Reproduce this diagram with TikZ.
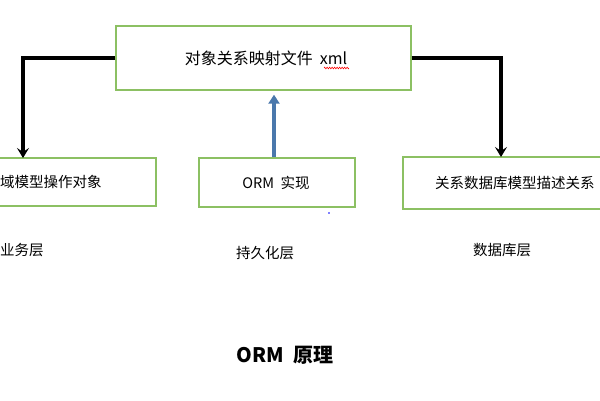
\documentclass[tikz,border=0pt]{standalone}
\usepackage{fontspec}
\setmainfont{Noto Sans CJK SC}
\usetikzlibrary{arrows.meta,decorations.pathmorphing}
\definecolor{boxgreen}{HTML}{8CC063}
\definecolor{arrowblue}{HTML}{4A78AC}
\tikzset{
  box/.style={draw=boxgreen, line width=1.4pt, fill=white, inner sep=0pt},
  txt/.style={inner sep=0pt, font=\fontsize{14.5}{17}\selectfont},
  blk/.style={line width=3.2pt, black, -{Stealth[length=10pt,width=12pt,inset=4pt]}},
  blu/.style={line width=3.6pt, arrowblue, shorten >=4pt, -{Triangle[length=9pt,width=11pt]}},
}
\begin{document}
\begin{tikzpicture}[x=1pt,y=-1pt]
\useasboundingbox (0,0) rectangle (600,400);
\begin{scope}
\clip (0,0) rectangle (600,400);
% boxes
\node[box, minimum width=295pt, minimum height=64pt] (top) at (263.5,58) {};
\node[txt, font=\fontsize{16}{19}\selectfont] (toptxt) at (266,58) {对象关系映射文件\ \ xml};
\node[box, minimum width=196pt, minimum height=48pt] (left) at (58,182) {};
\node[txt, anchor=west] (lefttxt) at (0,182) {域模型操作对象};
\node[box, minimum width=156pt, minimum height=49pt] (mid) at (277,182.5) {};
\node[txt] (midtxt) at (276,182.5) {ORM\ \ 实现};
\node[box, minimum width=237pt, minimum height=52pt] (right) at (521.5,183) {};
\node[txt, anchor=west] (righttxt) at (435,183) {关系数据库模型描述关系};
% connectors
\coordinate (lend) at (23,158);
\coordinate (rend) at (501,157);
\draw[blk] (top.west) -| (lend);
\draw[blk] (top.east) -| (rend);
\draw[blu] ([xshift=-3pt]mid.north) -- ([xshift=-3pt]mid.north |- top.south);
% spell-check squiggle
\coordinate (sqa) at (324,68);
\coordinate (sqb) at (349,68);
\draw[red, line width=0.6pt, decorate, decoration={zigzag, segment length=2.5pt, amplitude=0.8pt}] (sqa) -- (sqb);
% dot
\fill[blue] (329,213) circle (0.9pt);
% layer labels
\node[txt, anchor=west] (l1) at (0,250) {业务层};
\node[txt] (l2) at (265,253) {持久化层};
\node[txt] (l3) at (502,250) {数据库层};
\node[inner sep=0pt, font=\fontsize{20}{23}\selectfont\bfseries] (title) at (285,355) {ORM\ \ 原理};
\end{scope}
\end{tikzpicture}
\end{document}
